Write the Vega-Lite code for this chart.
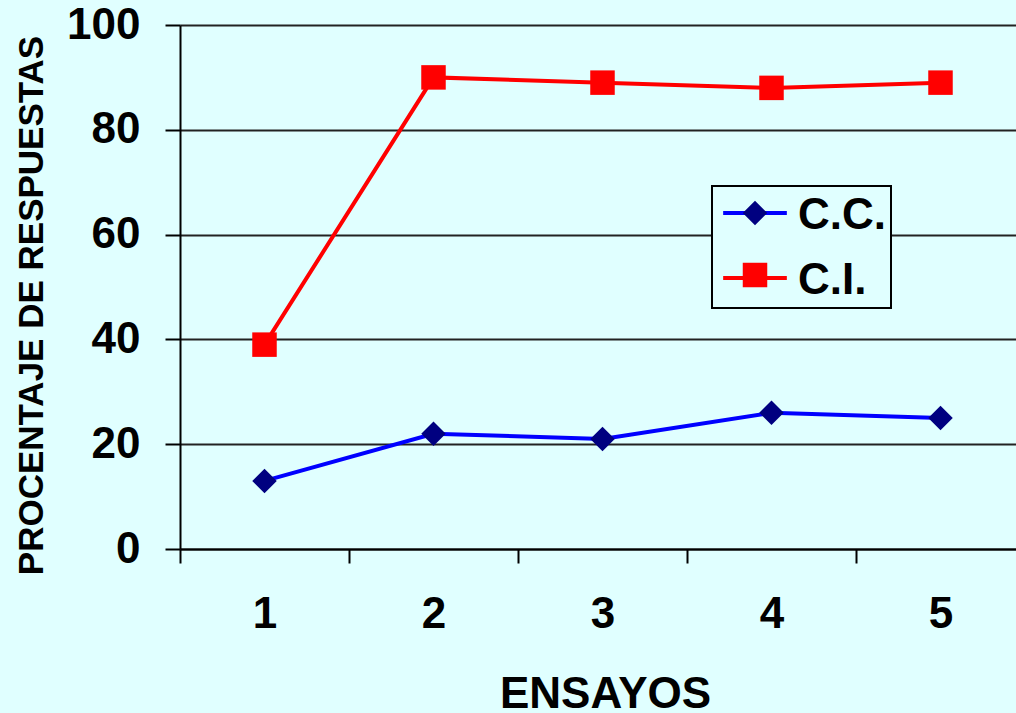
{
  "$schema": "https://vega.github.io/schema/vega-lite/v6.json",
  "autosize": {"type": "none"},
  "width": 836,
  "height": 524,
  "padding": {"left": 180, "top": 25, "right": 0, "bottom": 164},
  "background": "#E0FFFF",
  "config": {"view": {"stroke": null}, "font": "Liberation Sans"},
  "data": {
    "values": [
      {"ensayo": "1", "serie": "C.C.", "valor": 13},
      {"ensayo": "2", "serie": "C.C.", "valor": 22},
      {"ensayo": "3", "serie": "C.C.", "valor": 21},
      {"ensayo": "4", "serie": "C.C.", "valor": 26},
      {"ensayo": "5", "serie": "C.C.", "valor": 25},
      {"ensayo": "1", "serie": "C.I.", "valor": 39},
      {"ensayo": "2", "serie": "C.I.", "valor": 90},
      {"ensayo": "3", "serie": "C.I.", "valor": 89},
      {"ensayo": "4", "serie": "C.I.", "valor": 88},
      {"ensayo": "5", "serie": "C.I.", "valor": 89}
    ]
  },
  "encoding": {
    "x": {
      "field": "ensayo",
      "type": "ordinal",
      "scale": {"type": "band", "range": [0, 845], "paddingInner": 0, "paddingOuter": 0},
      "axis": {
        "title": "ENSAYOS",
        "titleFont": "Liberation Sans",
        "titleFontSize": 44,
        "titleFontWeight": "bold",
        "titleColor": "#000",
        "titleBaseline": "alphabetic",
        "titleX": 425,
        "titleY": 158,
        "labelAngle": 0,
        "labelFont": "Liberation Sans",
        "labelFontSize": 44,
        "labelFontWeight": "bold",
        "labelColor": "#000",
        "labelPadding": 29,
        "tickBand": "extent",
        "tickSize": 14,
        "tickColor": "#000",
        "tickWidth": 2,
        "domainColor": "#000",
        "domainWidth": 2,
        "grid": false
      }
    },
    "y": {
      "field": "valor",
      "type": "quantitative",
      "scale": {"domain": [0, 100], "nice": false, "zero": true},
      "axis": {
        "title": "PROCENTAJE DE RESPUESTAS",
        "titleFont": "Liberation Sans",
        "titleFontSize": 35,
        "titleFontWeight": "bold",
        "titleColor": "#000",
        "titleBaseline": "alphabetic",
        "titleAngle": -90,
        "titleX": -138,
        "titleY": 280,
        "values": [0, 20, 40, 60, 80, 100],
        "labelFont": "Liberation Sans",
        "labelFontSize": 44,
        "labelFontWeight": "bold",
        "labelColor": "#000",
        "labelPadding": 25,
        "tickSize": 15,
        "tickColor": "#000",
        "tickWidth": 2,
        "domainColor": "#000",
        "domainWidth": 2,
        "grid": true,
        "gridColor": "#222",
        "gridWidth": 2,
        "gridOpacity": 1
      }
    }
  },
  "layer": [
    {
      "mark": {"type": "line", "strokeWidth": 4},
      "encoding": {
        "color": {
          "field": "serie",
          "type": "nominal",
          "scale": {"domain": ["C.C.", "C.I."], "range": ["#0000FF", "#FF0000"]},
          "legend": {
            "orient": "none",
            "legendX": 532,
            "legendY": 161,
            "zindex": 0,
            "title": null,
            "symbolType": "M-2.6,0H2.6",
            "symbolSize": 600,
            "symbolStrokeWidth": 4,
            "symbolOffset": 16,
            "labelFont": "Liberation Sans",
            "labelFontSize": 44,
            "labelFontWeight": "bold",
            "labelColor": "#000",
            "labelOffset": 21,
            "rowPadding": 18,
            "padding": 5,
            "strokeColor": "#000",
            "fillColor": "#E0FFFF",
            "encode": {
              "legend": {"update": {"strokeWidth": {"value": 2}}},
              "labels": {"update": {"dy": {"value": 3}}}
            }
          }
        }
      }
    },
    {
      "mark": {"type": "point", "filled": true, "opacity": 1, "size": 600},
      "encoding": {
        "fill": {
          "field": "serie",
          "type": "nominal",
          "scale": {"range": ["#000080", "#FF0000"]},
          "legend": {
            "orient": "none",
            "legendX": 532,
            "legendY": 161,
            "zindex": 1,
            "title": null,
            "symbolSize": 600,
            "symbolStrokeWidth": 4,
            "symbolStrokeColor": "transparent",
            "symbolOffset": 16,
            "symbolOpacity": 1,
            "labelExpr": "' '",
            "labelFont": "Liberation Sans",
            "labelFontSize": 44,
            "labelFontWeight": "bold",
            "labelColor": "#000",
            "labelOpacity": 0,
            "labelOffset": 21,
            "rowPadding": 18,
            "padding": 5
          }
        },
        "shape": {
          "field": "serie",
          "type": "nominal",
          "scale": {"range": ["diamond", "square"]},
          "legend": {
            "orient": "none",
            "legendX": 532,
            "legendY": 161,
            "zindex": 1,
            "title": null,
            "symbolSize": 600,
            "symbolStrokeWidth": 4,
            "symbolStrokeColor": "transparent",
            "symbolOffset": 16,
            "symbolOpacity": 1,
            "labelExpr": "' '",
            "labelFont": "Liberation Sans",
            "labelFontSize": 44,
            "labelFontWeight": "bold",
            "labelColor": "#000",
            "labelOpacity": 0,
            "labelOffset": 21,
            "rowPadding": 18,
            "padding": 5
          }
        }
      }
    }
  ]
}
